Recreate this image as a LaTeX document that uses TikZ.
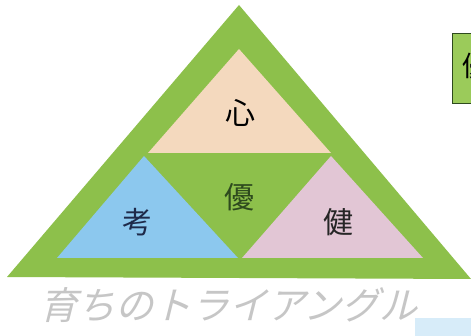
\documentclass[tikz,border=0pt]{standalone}
\usepackage{fontspec}
\newfontfamily\cjk{Noto Sans CJK JP}
\definecolor{tgreen}{HTML}{8DC04B}
\definecolor{tpeach}{HTML}{F4D9BE}
\definecolor{tblue}{HTML}{8CC8EE}
\definecolor{tpink}{HTML}{E2C6D5}
\definecolor{boxgreen}{HTML}{9BCB5A}
\definecolor{dkgreen}{HTML}{2E4A1E}
\definecolor{navy}{HTML}{1E2A4A}
\tikzset{
  lbl/.style={font=\cjk\fontsize{30}{30}\selectfont, inner sep=0pt},
}
\begin{document}
\begin{tikzpicture}[x=1pt,y=-1pt]
\useasboundingbox (0,0) rectangle (471,336);
\fill[white] (0,0) rectangle (471,336);
% outer triangle
\coordinate (A) at (239,5);
\coordinate (BL) at (7,277);
\coordinate (BR) at (471,279);
\fill[tgreen] (A) -- (BR) -- (BL) -- cycle;
% top
\fill[tpeach] (239,49) -- (331,153) -- (148,153) -- cycle;
% left
\fill[tblue] (144,156) -- (238,258) -- (57,258) -- cycle;
% right
\fill[tpink] (331,156) -- (423,258) -- (242,258) -- cycle;
\node[lbl, text=black] (kokoro) at (240,113) {心};
\node[lbl, text=dkgreen] (yu) at (239,197) {優};
\node[lbl, text=navy] (ko) at (137,222) {考};
\node[lbl, text=black!85] (ken) at (338,222) {健};
% right box
\begin{scope}
\clip (0,0) rectangle (471,336);
\node[draw=dkgreen, line width=1pt, fill=boxgreen, minimum width=40pt, minimum height=70pt, anchor=north west, inner sep=0pt] (box) at (452,33) {};
\node[lbl, text=black, anchor=west, font=\cjk\fontsize{28}{28}\selectfont] (boxt) at (462,66) {優};
\end{scope}
% bottom title
\node[font=\cjk\fontsize{38}{38}\selectfont, text=gray!45, xslant=0.25, inner sep=0pt] (title) at (232,305) {育ちのトライアングル};
\fill[tblue!35] (415,318) rectangle (471,336);
\end{tikzpicture}
\end{document}
